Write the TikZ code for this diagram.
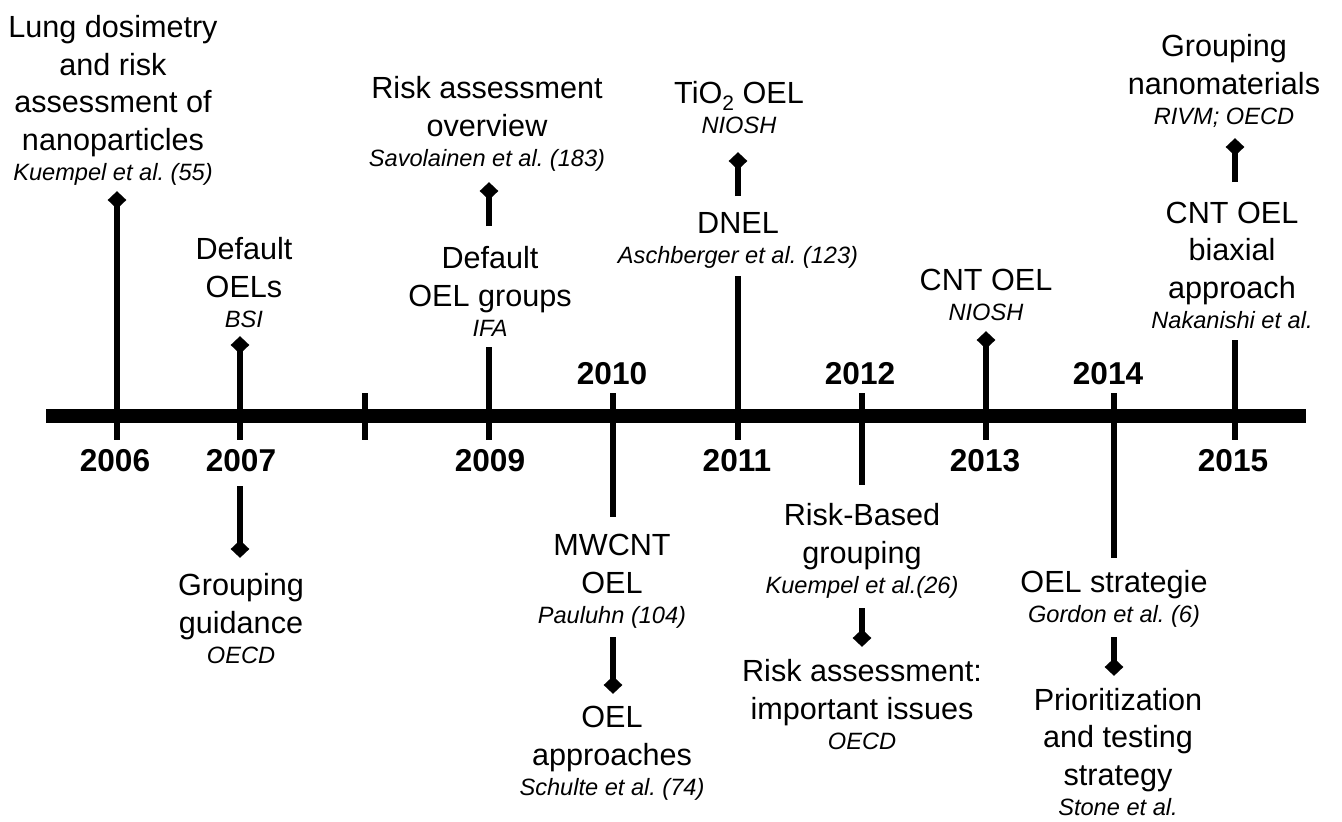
\documentclass[tikz,border=0pt]{standalone}
\usepackage{fontspec}
\setmainfont{Liberation Sans}
\usetikzlibrary{shapes.geometric}
\frenchspacing
\newcommand\rf[1]{{\fontsize{11.8}{13}\selectfont\itshape #1}}
\newcommand\subtwo{\raisebox{-3.5pt}{\fontsize{10.5}{10}\selectfont 2}}
\begin{document}
\begin{tikzpicture}[x=0.5pt,y=-0.5pt,
 lbl/.style={align=center,inner sep=0pt,anchor=base,font=\fontsize{15.3}{18.75}\selectfont},
 yr/.style={inner sep=0pt,anchor=base,font=\fontsize{15.8}{19}\selectfont\bfseries},
 dia/.style={diamond,fill=black,draw=none,inner sep=0pt,minimum width=9.5pt,minimum height=9pt},
 stem/.style={line width=3.25pt},
 bar/.style={line width=6.75pt}]
\useasboundingbox (0,0) rectangle (1342,821);

% main bar
\coordinate (bL) at (46,416);
\coordinate (bR) at (1306,416);
\draw[bar] (bL) -- (bR);

% coordinates for stems
\coordinate (t06) at (117,440);
\coordinate (t07) at (240,440);
\coordinate (s07) at (240,486);
\coordinate (bk1) at (365,393);
\coordinate (bk2) at (365,440);
\coordinate (s09a) at (489,226);
\coordinate (s09b) at (489,347);
\coordinate (t09) at (489,440);
\coordinate (s10a) at (613,393);
\coordinate (s10b) at (613,517);
\coordinate (s10c) at (613,637);
\coordinate (s11a) at (738,196);
\coordinate (s11b) at (738,276);
\coordinate (t11) at (738,440);
\coordinate (s12a) at (862,393);
\coordinate (s12b) at (862,485);
\coordinate (s12c) at (862,608);
\coordinate (t13) at (986,440);
\coordinate (s14a) at (1114,393);
\coordinate (s14b) at (1114,558);
\coordinate (s14c) at (1114,637);
\coordinate (s15a) at (1235,182);
\coordinate (s15b) at (1235,340);
\coordinate (t15) at (1235,440);

% diamonds
\node[dia] (d06) at (117,200) {};
\node[dia] (d07a) at (240,345) {};
\node[dia] (d07b) at (240,549) {};
\node[dia] (d09) at (489,191) {};
\node[dia] (d10) at (613,685) {};
\node[dia] (d11) at (738,161) {};
\node[dia] (d12) at (862,638) {};
\node[dia] (d13) at (986,340) {};
\node[dia] (d14) at (1114,667) {};
\node[dia] (d15) at (1235,147) {};

% stems
\draw[stem] (d06.center) -- (t06);
\draw[stem] (d07a.center) -- (t07);
\draw[stem] (s07) -- (d07b.center);
\draw[stem] (bk1) -- (bk2);
\draw[stem] (s09a) -- (d09.center);
\draw[stem] (s09b) -- (t09);
\draw[stem] (s10a) -- (s10b);
\draw[stem] (s10c) -- (d10.center);
\draw[stem] (s11a) -- (d11.center);
\draw[stem] (s11b) -- (t11);
\draw[stem] (s12a) -- (s12b);
\draw[stem] (s12c) -- (d12.center);
\draw[stem] (d13.center) -- (t13);
\draw[stem] (s14a) -- (s14b);
\draw[stem] (s14c) -- (d14.center);
\draw[stem] (s15a) -- (d15.center);
\draw[stem] (s15b) -- (t15);

% years
\node[yr] (y06) at (115,471) {2006};
\node[yr] (y07) at (241,471) {2007};
\node[yr] (y09) at (490,471) {2009};
\node[yr] (y10) at (612,384) {2010};
\node[yr] (y11) at (737,471) {2011};
\node[yr] (y12) at (860,384) {2012};
\node[yr] (y13) at (985,471) {2013};
\node[yr] (y14) at (1108,384) {2014};
\node[yr] (y15) at (1233,471) {2015};

% labels (anchor = baseline of the last, italic line)
\node[lbl] (l06) at (113,180) {Lung dosimetry\\and risk\\assessment of\\nanoparticles\\[-3.75pt]\rf{Kuempel et al. (55)}};
\node[lbl] (l07a) at (244,327) {Default\\OELs\\[-3.75pt]\rf{BSI}};
\node[lbl] (l07b) at (241,663) {Grouping\\guidance\\[-3.75pt]\rf{OECD}};
\node[lbl] (l09a) at (487,166) {Risk assessment\\overview\\[-3.75pt]\rf{Savolainen et al. (183)}};
\node[lbl] (l09b) at (490,336) {Default\\OEL groups\\[-3.75pt]\rf{IFA}};
\node[lbl] (l10a) at (612,623) {MWCNT\\OEL\\[-3.75pt]\rf{Pauluhn (104)}};
\node[lbl] (l10b) at (612,795) {OEL\\approaches\\[-3.75pt]\rf{Schulte et al. (74)}};
\node[lbl] (l11a) at (739,133) {TiO\subtwo{} OEL\\[-3.75pt]\rf{NIOSH}};
\node[lbl] (l11b) at (738,263) {DNEL\\[-3.75pt]\rf{Aschberger et al. (123)}};
\node[lbl] (l12a) at (862,593) {Risk-Based\\grouping\\[-3.75pt]\rf{Kuempel et al.(26)}};
\node[lbl] (l12b) at (862,749) {Risk assessment:\\important issues\\[-3.75pt]\rf{OECD}};
\node[lbl] (l13) at (986,320) {CNT OEL\\[-3.75pt]\rf{NIOSH}};
\node[lbl] (l14a) at (1114,622) {OEL strategie\\[-3.75pt]\rf{Gordon et al. (6)}};
\node[lbl] (l14b) at (1118,815) {Prioritization\\and testing\\strategy\\[-3.75pt]\rf{Stone et al.}};
\node[lbl] (l15a) at (1224,124) {Grouping\\nanomaterials\\[-3.75pt]\rf{RIVM; OECD}};
\node[lbl] (l15b) at (1232,328) {CNT OEL\\biaxial\\approach\\[-3.75pt]\rf{Nakanishi et al.}};
\end{tikzpicture}
\end{document}
